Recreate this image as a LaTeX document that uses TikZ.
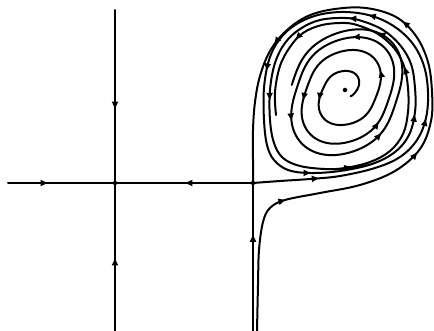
\documentclass[tikz,border=0pt]{standalone}
\usetikzlibrary{arrows.meta,decorations.markings}
\begin{document}
\begin{tikzpicture}[x=1pt,y=1pt,yscale=-1
,traj/.style={line width=2pt,line join=round,line cap=round}
,flowmark/.style={postaction={decorate},decoration={markings,mark=at position #1 with {\arrow{Triangle[length=7pt,width=6pt]}}}}
,flowmarks/.style={postaction={decorate},decoration={markings,mark=between positions #1 with {\arrow{Triangle[length=7pt,width=6pt]}}}}
,eqpt/.style={circle,fill=black,inner sep=0pt,minimum size=4.5pt}
,declare function={spfac(\u)=1-exp(-(\u+137)/720);sprad(\u)=66-5*cos(2*\u)+4.5*(1+sin(2*\u))*(1+sin(2*\u));}
]
\useasboundingbox (0,0) rectangle (434,331);
\clip (0,0) rectangle (434,331);
\node[eqpt] (node) at (115,183) {};
\node[eqpt] (saddle) at (253,183) {};
\node[eqpt] (focus) at (345,90) {};
\coordinate (west) at (8,183);
\coordinate (north) at (115,10);
\coordinate (south) at (115,331);
\coordinate (sbot) at (253,331);
\draw[traj,flowmark=0.37] (west) -- (node.center);
\draw[traj,flowmark=0.49] (saddle.center) -- (node.center);
\draw[traj,flowmark=0.57] (north) -- (node.center);
\draw[traj,flowmark=0.49] (south) -- (node.center);
\draw[traj,flowmark=0.65] (sbot) -- (saddle.center);
\draw[traj,flowmarks={0.2 and 0.8 step 0.2}] plot[smooth,tension=0.6] coordinates {(257,331) (258,285) (259,250) (263,222) (270,208) (285,200) (320,193) (360,185) (395,171) (420,149) (431,121) (432,92) (428,62) (416,36) (396,17) (366,8) (335,9) (308,16) (286,31) (270,51) (260,76) (255,102) (253,130) (253,160) (saddle.center)};
\draw[traj,flowmarks={0.045 and 0.96 step 0.09}] plot[smooth,tension=0.6] coordinates {(saddle.center) (280,181) (310,179) (340,176) (375,168) (400,157) (417,140) (426,118) (428,92) (424,66) (413,44) (395,27) (372,16) (345,12) (318,15) (295,25) (279,40) (269,60) (264,88) (264,120) (267,145) (274,160) (288,170) (310,173) (340,171) (372,164) (395,152) (409,135) (415,112) (415,88) (411,64) (400,45) (383,30) (362,21) (345,18) (320,20) (300,29) (285,43) (275,63) (270,90) (270,120) (274,143) (283,158) (300,166) (325,169) (345,168) (370,162) (390,151) (403,134) (408,112) (408,88) (404,66) (394,48) (378,34) (360,26) (345,23) (322,25) (303,33) (290,47) (280,66) (275,92) (276,115)};
\draw[traj,flowmarks={0.08 and 1 step 0.115}] plot[domain=-45:1250,samples=520,variable=\t] ({345+spfac(\t)*sprad(\t)*cos(\t)},{90+5*spfac(\t)-spfac(\t)*sprad(\t)*sin(\t)});
\end{tikzpicture}
\end{document}
